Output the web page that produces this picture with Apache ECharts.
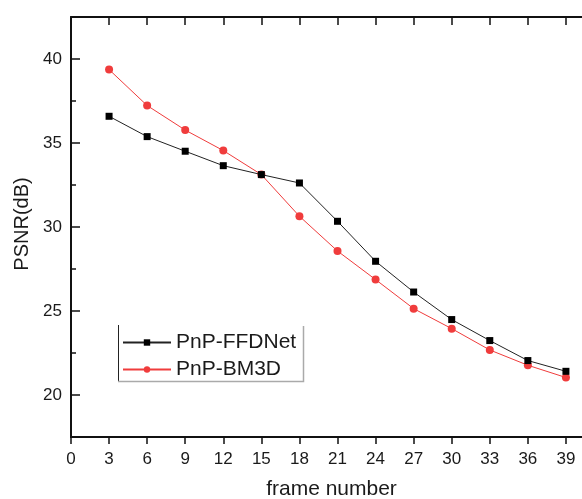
<!DOCTYPE html>
<html>
<head>
<meta charset="utf-8">
<script src="https://cdn.jsdelivr.net/npm/echarts@6/dist/echarts.min.js"></script>
<style>html,body{margin:0;padding:0;background:#fff}#c{width:582px;height:499px}</style>
</head>
<body>
<div id="c"></div>
<script>
var frames = [3, 6, 9, 12, 15, 18, 21, 24, 27, 30, 33, 36, 39];
var ffdnet = [36.59, 35.38, 34.51, 33.65, 33.12, 32.62, 30.34, 27.96, 26.13, 24.49, 23.24, 22.05, 21.41];
var bm3d   = [39.37, 37.23, 35.77, 34.55, 33.12, 30.64, 28.57, 26.87, 25.14, 23.95, 22.68, 21.77, 21.04];
var yTickLabels = [20, 25, 30, 35, 40];
var yMinorTicks = [22.5, 27.5, 32.5, 37.5];
var seriesNames = ['PnP-FFDNet', 'PnP-BM3D'];

var FONT = '"Liberation Sans", Arial, sans-serif';
var TXT = '#1a1a1a';

function pairs(xs, ys) { return xs.map(function (x, i) { return [x, ys[i]]; }); }

var chart = echarts.init(document.getElementById('c'), null, { renderer: 'canvas' });
chart.setOption({
  animation: false,
  backgroundColor: '#fff',
  grid: { left: 71, top: 17, width: 533, height: 420, containLabel: false, outerBoundsMode: 'none' },
  xAxis: [
    {
      type: 'value', position: 'bottom', min: 0, max: 42, interval: 3,
      name: 'frame number', nameLocation: 'middle', nameGap: 42,
      nameTextStyle: { fontFamily: FONT, fontSize: 21, color: TXT, padding: [0, 12, 0, 0] },
      axisLine: { show: true, onZero: false, lineStyle: { color: '#111', width: 2 } },
      axisTick: { show: true, inside: false, length: 7, lineStyle: { color: '#111', width: 1.5 } },
      axisLabel: { fontFamily: FONT, fontSize: 17, color: TXT, margin: 14,
        formatter: function (v) { return v % 3 === 0 && v <= 39 ? String(v) : ''; } },
      splitLine: { show: false }
    },
    {
      type: 'value', position: 'top', min: 0, max: 42, interval: 3,
      axisLine: { show: true, onZero: false, lineStyle: { color: '#111', width: 2 } },
      axisTick: { show: true, inside: true, length: 8, lineStyle: { color: '#111', width: 1.5 } },
      axisLabel: { show: false },
      splitLine: { show: false }
    }
  ],
  yAxis: [
    {
      type: 'value', position: 'left', min: 17.5, max: 42.5,
      name: 'PSNR(dB)', nameLocation: 'middle', nameGap: 27,
      nameTextStyle: { fontFamily: FONT, fontSize: 20, color: TXT, padding: [0, 0, 0, 6] },
      axisLine: { show: true, onZero: false, lineStyle: { color: '#111', width: 2 } },
      axisTick: { show: true, inside: true, length: 9, customValues: yTickLabels, lineStyle: { color: '#111', width: 1.5 } },
      axisLabel: { fontFamily: FONT, fontSize: 17, color: TXT, margin: 9, customValues: yTickLabels },
      splitLine: { show: false }
    },
    {
      type: 'value', position: 'left', min: 17.5, max: 42.5,
      axisLine: { show: false },
      axisTick: { show: true, inside: true, length: 5, customValues: yMinorTicks, lineStyle: { color: '#111', width: 1.5 } },
      axisLabel: { show: false, customValues: yMinorTicks },
      splitLine: { show: false }
    }
  ],
  legend: {
    left: 122, top: 332, orient: 'vertical', padding: 0,
    itemWidth: 48, itemHeight: 8, itemGap: 6,
    textStyle: { fontFamily: FONT, fontSize: 21, color: TXT, lineHeight: 21 },
    data: seriesNames
  },
  graphic: [
    { type: 'polyline', shape: { points: [[118.5, 325], [118.5, 382]] }, style: { stroke: '#222', lineWidth: 1 } },
    { type: 'polyline', shape: { points: [[118, 381.5], [303.5, 381.5], [303.5, 326]] }, style: { stroke: '#aaa', lineWidth: 1.5 } }
  ],
  series: [
    {
      name: seriesNames[0], type: 'line', xAxisIndex: 0, yAxisIndex: 0,
      data: pairs(frames, ffdnet),
      symbol: 'rect', symbolSize: 7,
      lineStyle: { color: '#222', width: 1 },
      itemStyle: { color: '#000' },
      z: 3
    },
    {
      name: seriesNames[1], type: 'line', xAxisIndex: 0, yAxisIndex: 0,
      data: pairs(frames, bm3d),
      symbol: 'circle', symbolSize: 8,
      lineStyle: { color: '#f03c3c', width: 1 },
      itemStyle: { color: '#f03c3c' },
      z: 2
    }
  ]
});
</script>
</body>
</html>
